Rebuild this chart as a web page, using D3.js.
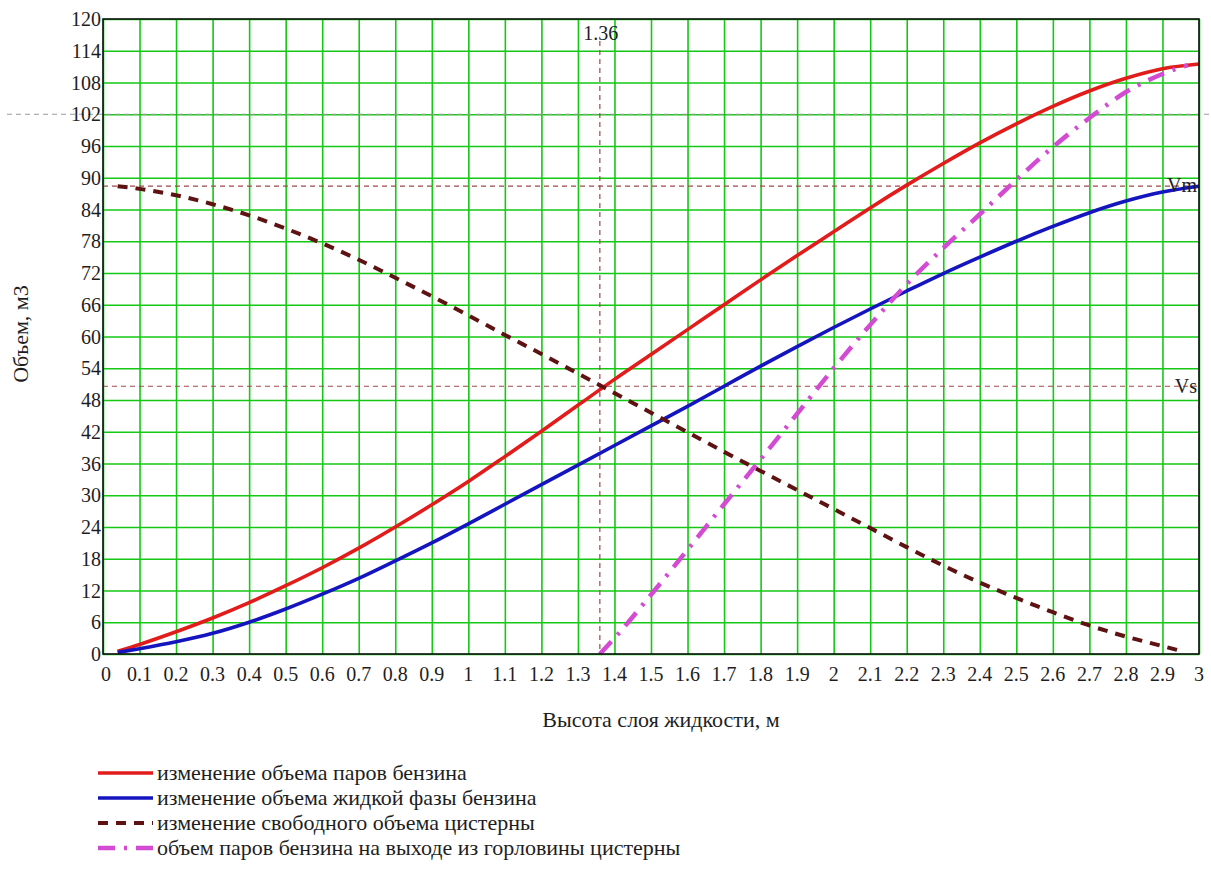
<!DOCTYPE html>
<html>
<head>
<meta charset="utf-8">
<script src="https://cdn.jsdelivr.net/npm/d3@7"></script>
<style>
  html, body { margin: 0; padding: 0; background: #fff; }
  svg { display: block; }
</style>
</head>
<body>
<svg id="chart" width="1211" height="891" font-family="'Liberation Serif', 'Times New Roman', serif"></svg>
<script>
// ---- data ----
const xTickValues = [0,0.1,0.2,0.3,0.4,0.5,0.6,0.7,0.8,0.9,1,1.1,1.2,1.3,1.4,1.5,1.6,1.7,1.8,1.9,2,2.1,2.2,2.3,2.4,2.5,2.6,2.7,2.8,2.9,3];
const xTickLabels = ["0","0.1","0.2","0.3","0.4","0.5","0.6","0.7","0.8","0.9","1","1.1","1.2","1.3","1.4","1.5","1.6","1.7","1.8","1.9","2","2.1","2.2","2.3","2.4","2.5","2.6","2.7","2.8","2.9","3"];
const yTickValues = [0,6,12,18,24,30,36,42,48,54,60,66,72,78,84,90,96,102,108,114,120];

const heightX = [0.04,0.1,0.2,0.3,0.4,0.5,0.6,0.7,0.8,0.9,1.0,1.1,1.2,1.3,1.4,1.5,1.6,1.7,1.8,1.9,2.0,2.1,2.2,2.3,2.4,2.5,2.6,2.7,2.8,2.9,3.0];
const vaporVolume  = [0.5,1.8,4.2,6.8,9.7,12.9,16.3,20.0,24.0,28.2,32.6,37.3,42.1,47.0,51.9,56.6,61.3,66.0,70.7,75.3,79.8,84.3,88.6,92.7,96.6,100.2,103.5,106.4,108.8,110.6,111.5];
const liquidVolume = [0.3,1.0,2.3,3.9,6.0,8.5,11.3,14.3,17.6,21.0,24.6,28.3,32.0,35.7,39.4,43.1,46.8,50.6,54.4,58.1,61.7,65.2,68.6,71.9,75.0,78.0,80.8,83.4,85.6,87.3,88.4];

const freeX = [0.04,0.1,0.2,0.3,0.4,0.5,0.6,0.7,0.8,0.9,1.0,1.1,1.2,1.3,1.4,1.5,1.6,1.7,1.8,1.9,2.0,2.1,2.2,2.3,2.4,2.5,2.6,2.7,2.8,2.9,2.96];
const freeVolume = [88.4,87.9,86.7,85.0,82.9,80.4,77.6,74.5,71.1,67.6,64.0,60.3,56.7,53.0,49.3,45.6,41.9,38.2,34.6,31.0,27.4,23.8,20.2,16.7,13.5,10.6,7.9,5.4,3.3,1.5,0.4];

const neckX = [1.36,1.4,1.5,1.6,1.7,1.8,1.9,2.0,2.1,2.2,2.3,2.4,2.5,2.6,2.7,2.8,2.9,2.97];
const neckVolume = [0,3,11.2,19.7,28.3,36.8,45.4,54.0,62.2,69.9,76.7,83.1,89.6,95.8,101.3,106.2,109.6,111.3];

const markerH = 1.36, markerHLabel = "1.36";
const Vm = 88.4, Vs = 50.6, refLine = 102;

const legendLabels = [
  "изменение объема паров бензина",
  "изменение объема жидкой фазы бензина",
  "изменение свободного объема цистерны",
  "объем паров бензина на выходе из горловины цистерны"
];
const xTitle = "Высота слоя жидкости, м";
const yTitle = "Объем, м3";

// ---- drawing ----
const svg = d3.select("#chart");
const L = 103, R = 1199, T = 19, B = 654;
const x = d3.scaleLinear().domain([0,3]).range([L,R]);
const y = d3.scaleLinear().domain([0,120]).range([B,T]);
const txt = "#1e1e1e";

const gridColor = "#14c814";
svg.append("g").attr("transform",`translate(0,${B})`)
  .call(d3.axisBottom(x).tickValues(xTickValues).tickSize(-(B-T)).tickFormat(""))
  .call(g=>{ g.select(".domain").remove(); g.selectAll("line").attr("stroke",gridColor).attr("stroke-width",1.6); });
svg.append("g").attr("transform",`translate(${L},0)`)
  .call(d3.axisLeft(y).tickValues(yTickValues).tickSize(-(R-L)).tickFormat(""))
  .call(g=>{ g.select(".domain").remove(); g.selectAll("line").attr("stroke",gridColor).attr("stroke-width",1.6); });

// marker lines
const mk = "#a04848";
svg.append("line").attr("x1",7).attr("x2",1211).attr("y1",y(refLine)).attr("y2",y(refLine))
  .attr("stroke","#9a9a9a").attr("stroke-width",1).attr("stroke-dasharray","5,4");
svg.append("line").attr("x1",L).attr("x2",R).attr("y1",y(Vm)).attr("y2",y(Vm))
  .attr("stroke",mk).attr("stroke-width",1.2).attr("stroke-dasharray","5,4");
svg.append("line").attr("x1",L).attr("x2",R).attr("y1",y(Vs)).attr("y2",y(Vs))
  .attr("stroke",mk).attr("stroke-width",1.2).attr("stroke-dasharray","5,4");
svg.append("line").attr("x1",x(markerH)).attr("x2",x(markerH)).attr("y1",T+22).attr("y2",B)
  .attr("stroke",mk).attr("stroke-width",1.2).attr("stroke-dasharray","5,4");

// series
const line = d3.line().curve(d3.curveMonotoneX).x(d=>x(d[0])).y(d=>y(d[1]));
const series = [
  {xs: heightX, ys: vaporVolume, color:"#e21b1b", w:3.6, dash:null},
  {xs: heightX, ys: liquidVolume, color:"#1515c0", w:3.6, dash:null},
  {xs: freeX, ys: freeVolume, color:"#5e1212", w:4, dash:"10,8"},
  {xs: neckX, ys: neckVolume, color:"#d34ad3", w:4.5, dash:"17,9,3,9"}
];
series.forEach(s=>{
  svg.append("path").datum(s.xs.map((v,i)=>[v,s.ys[i]]))
    .attr("d",line).attr("fill","none").attr("stroke",s.color)
    .attr("stroke-width",s.w).attr("stroke-dasharray",s.dash)
    .attr("stroke-linecap","butt");
});

// frame
svg.append("rect").attr("x",L).attr("y",T).attr("width",R-L).attr("height",B-T)
  .attr("fill","none").attr("stroke","#111").attr("stroke-width",1.6);

// tick labels
const fs = 20;
svg.append("g").selectAll("text").data(xTickValues).join("text")
  .attr("x",(d,i)=> x(d) + (i===0?3:0)).attr("y",B+27).attr("text-anchor","middle")
  .attr("font-size",fs).attr("fill",txt).text((d,i)=>xTickLabels[i]);
svg.append("g").selectAll("text").data(yTickValues).join("text")
  .attr("x",L-2).attr("y",d=>y(d)+7).attr("text-anchor","end")
  .attr("font-size",fs).attr("fill",txt).text(d=>d);

// marker labels
svg.append("text").attr("x",x(markerH)+1).attr("y",T+21).attr("text-anchor","middle")
  .attr("font-size",fs).attr("fill",txt).text(markerHLabel);
svg.append("text").attr("x",R-2).attr("y",y(Vm)+6).attr("text-anchor","end")
  .attr("font-size",fs).attr("fill",txt).text("Vm");
svg.append("text").attr("x",R-2).attr("y",y(Vs)+7).attr("text-anchor","end")
  .attr("font-size",fs).attr("fill",txt).text("Vs");

// axis titles
svg.append("text").attr("x",661).attr("y",727).attr("text-anchor","middle")
  .attr("font-size",22).attr("fill",txt).text(xTitle);
svg.append("text").attr("transform",`translate(28,334) rotate(-90)`).attr("text-anchor","middle")
  .attr("font-size",22).attr("fill",txt).text(yTitle);

// legend
const legY0 = 773, legDy = 25;
series.forEach((s,i)=>{
  const yy = legY0 + i*legDy;
  svg.append("line").attr("x1",98).attr("x2",153).attr("y1",yy).attr("y2",yy)
    .attr("stroke",s.color).attr("stroke-width",s.w).attr("stroke-dasharray",s.dash);
  svg.append("text").attr("x",157).attr("y",yy+7).attr("font-size",22).attr("fill",txt).text(legendLabels[i]);
});
</script>
</body>
</html>
